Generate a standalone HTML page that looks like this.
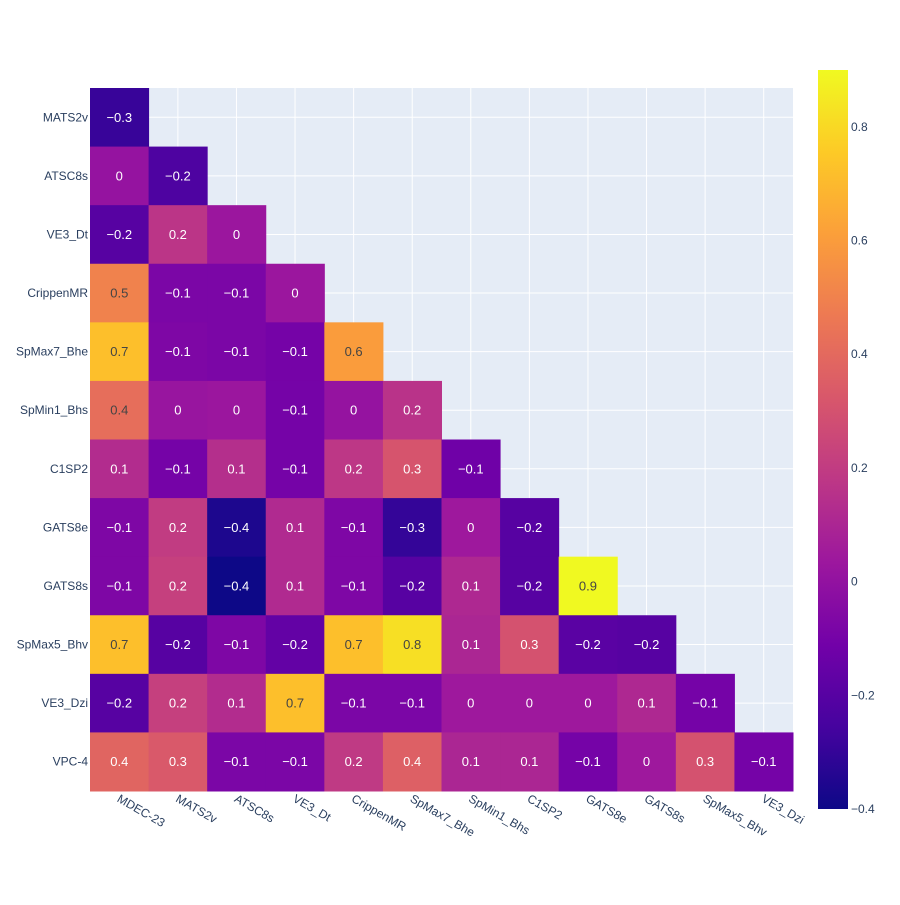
<!DOCTYPE html>
<html><head><meta charset="utf-8"><style>
body{margin:0;background:#fff;font-family:"Liberation Sans",sans-serif;}
svg text{font-family:"Liberation Sans",sans-serif;}
</style></head><body>
<svg id="chart" width="900" height="900" xmlns="http://www.w3.org/2000/svg"></svg>
<script>
const xCats=["MDEC-23","MATS2v","ATSC8s","VE3_Dt","CrippenMR","SpMax7_Bhe","SpMin1_Bhs","C1SP2","GATS8e","GATS8s","SpMax5_Bhv","VE3_Dzi"];
const yCats=["MATS2v","ATSC8s","VE3_Dt","CrippenMR","SpMax7_Bhe","SpMin1_Bhs","C1SP2","GATS8e","GATS8s","SpMax5_Bhv","VE3_Dzi","VPC-4"];
const values=[
[-0.29],
[0.01,-0.23],
[-0.2,0.17,0.03],
[0.5,-0.08,-0.08,0.03],
[0.72,-0.07,-0.08,-0.1,0.6],
[0.42,0.02,0.03,-0.1,0.01,0.16],
[0.13,-0.1,0.14,-0.1,0.18,0.31,-0.12],
[-0.07,0.2,-0.36,0.12,-0.07,-0.3,0.04,-0.2],
[-0.07,0.22,-0.4,0.12,-0.07,-0.2,0.11,-0.2,0.9],
[0.72,-0.2,-0.07,-0.16,0.72,0.82,0.1,0.3,-0.19,-0.2],
[-0.2,0.22,0.13,0.72,-0.08,-0.08,0.04,0.04,0.04,0.11,-0.1],
[0.38,0.33,-0.08,-0.08,0.19,0.36,0.1,0.1,-0.1,0.04,0.3,-0.1]];
const cbTicks=[0.8,0.6,0.4,0.2,0,-0.2,-0.4];
const zmin=-0.4,zmax=0.9;
const stops=["#0d0887","#46039f","#7201a8","#9c179e","#bd3786","#d8576b","#ed7953","#fb9f3a","#fdca26","#f0f921"];
const L=90,R=793,T=88,B=791;
const cw=(R-L)/xCats.length,ch=(B-T)/yCats.length;
const xc=i=>L+cw*(i+0.5), yc=j=>T+ch*(j+0.5);
const NS="http://www.w3.org/2000/svg";
const svg=document.getElementById('chart');
function mk(t,a,p){const e=document.createElementNS(NS,t);for(const k in a)e.setAttribute(k,a[k]);(p||svg).appendChild(e);return e;}
function hex(h){return [1,3,5].map(i=>parseInt(h.substr(i,2),16));}
function color(v){let t=(v-zmin)/(zmax-zmin);t=Math.max(0,Math.min(1,t));const s=t*(stops.length-1);const i=Math.min(Math.floor(s),stops.length-2);const f=s-i;const a=hex(stops[i]),b=hex(stops[i+1]);const c=a.map((x,k)=>Math.round(x+(b[k]-x)*f));return {css:`rgb(${c.join(',')})`,lum:(0.299*c[0]+0.587*c[1]+0.114*c[2])};}
const bg=mk('rect',{x:L,y:T,width:R-L,height:B-T,fill:'#E5ECF6'});


xCats.forEach((c,i)=>{const l=mk('line',{x1:xc(i),x2:xc(i),y1:T,y2:B,stroke:'#fff','stroke-width':1});

});
yCats.forEach((c,j)=>{const l=mk('line',{x1:L,x2:R,y1:yc(j),y2:yc(j),stroke:'#fff','stroke-width':1});

});
values.forEach((row,j)=>row.forEach((v,i)=>{
 const c=color(v);
 const r=mk('rect',{x:L+cw*i,y:T+ch*j,width:cw+0.5,height:ch+0.5,fill:c.css});
 
 
 const r1=Math.round(v*10)/10;
 const txt=(r1===0?'0':(r1<0?'\u2212'+Math.abs(r1):String(r1)));
 const t=mk('text',{x:xc(i),y:yc(j)+4.5,'text-anchor':'middle','font-size':13,fill:c.lum>140?'#444':'#fff'});
 t.textContent=txt;
 
 
}));
yCats.forEach((c,j)=>{const t=mk('text',{x:L-2,y:yc(j)+4,'text-anchor':'end','font-size':12,fill:'#2a3f5f'});t.textContent=c;

});
xCats.forEach((c,i)=>{const x=xc(i)-3,y=B+10;const t=mk('text',{x:x,y:y,'text-anchor':'start','font-size':12,fill:'#2a3f5f',transform:`rotate(30 ${x} ${y})`});t.textContent=c;

});
// colorbar
const cbT=70,cbB=809,cbX=818,cbW=30;
const defs=mk('defs',{});const g=mk('linearGradient',{id:'pl',x1:0,y1:1,x2:0,y2:0},defs);
stops.forEach((s,k)=>mk('stop',{offset:k/(stops.length-1),'stop-color':s},g));
const cb=mk('rect',{x:cbX,y:cbT,width:cbW,height:cbB-cbT,fill:'url(#pl)'});


const cy=v=>cbB-(v-zmin)/(zmax-zmin)*(cbB-cbT);
cbTicks.forEach(v=>{const t=mk('text',{x:cbX+cbW+3,y:cy(v)+4,'font-size':12,fill:'#2a3f5f'});t.textContent=v<0?'\u2212'+Math.abs(v):String(v);

});
</script>
</body></html>
